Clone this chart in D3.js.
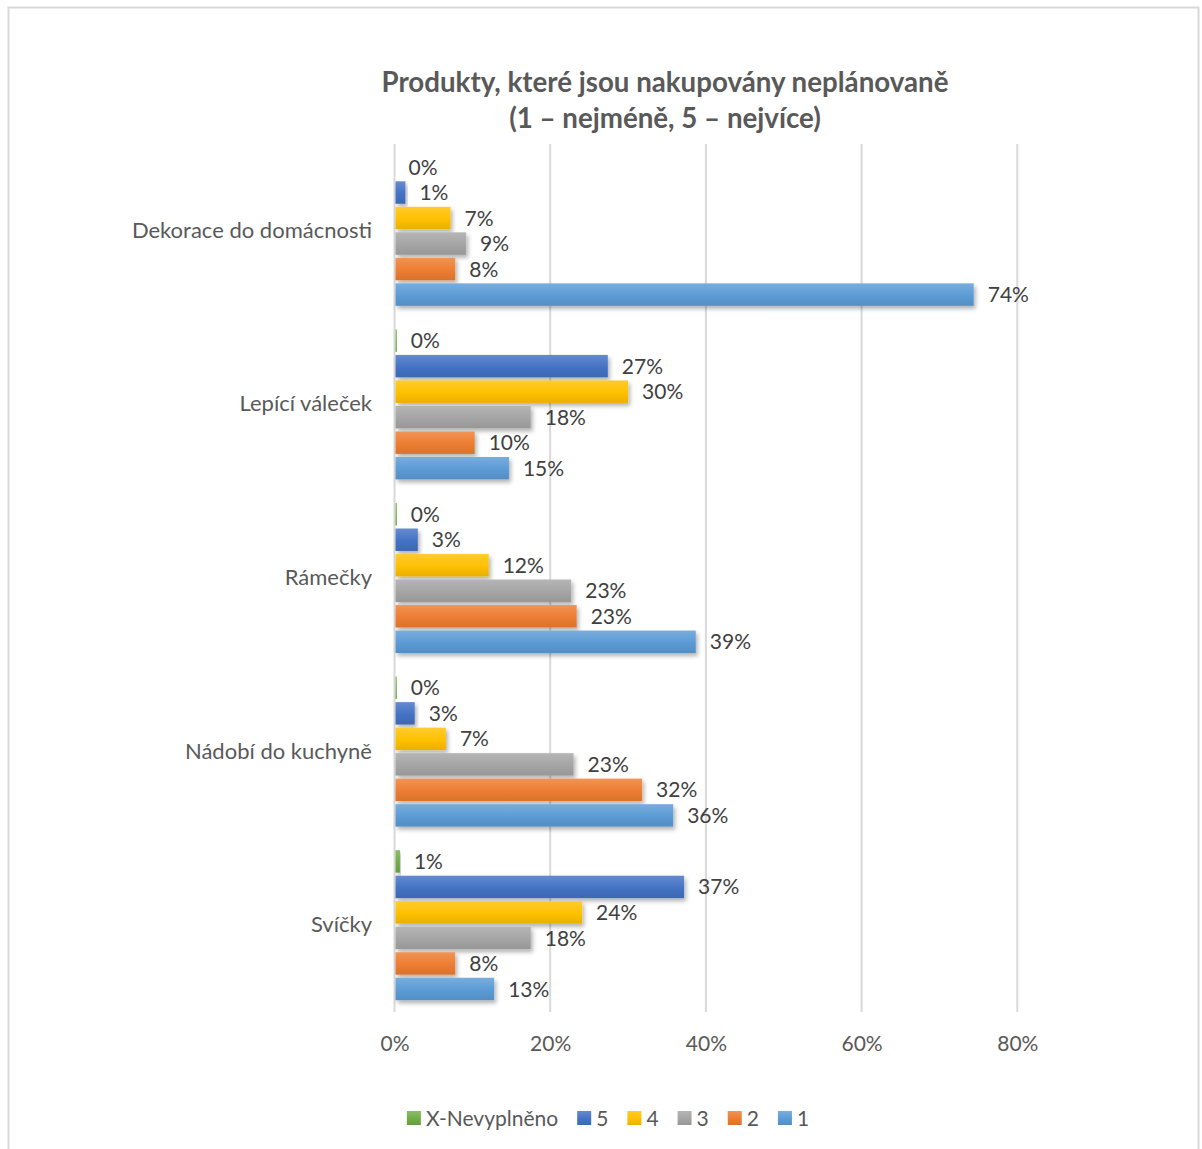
<!DOCTYPE html>
<html><head><meta charset="utf-8">
<script src="https://cdn.jsdelivr.net/npm/d3@7"></script>
<style>body{margin:0;background:#fff} svg{display:block}</style>
</head><body>
<svg id="chart" width="1202" height="1149"></svg>
<script>
const categories = ["Dekorace do domácnosti", "Lepící váleček", "Rámečky", "Nádobí do kuchyně", "Svíčky"];
const seriesNames = ["X-Nevyplněno", "5", "4", "3", "2", "1"];
const valuesX = [0, 0.3, 0.3, 0.3, 0.7];
const values5 = [1.4, 27.4, 3.0, 2.6, 37.2];
const values4 = [7.2, 30.0, 12.1, 6.6, 24.1];
const values3 = [9.2, 17.5, 22.7, 23.0, 17.5];
const values2 = [7.8, 10.3, 23.4, 31.8, 7.8];
const values1 = [74.4, 14.7, 38.7, 35.8, 12.8];
const xTicks = [0, 20, 40, 60, 80];
const titleLines = ["Produkty, které jsou nakupovány neplánovaně", "(1 – nejméně, 5 – nejvíce)"];
const colors = ["#70ad47", "#4472c4", "#ffc000", "#a5a5a5", "#ed7d31", "#5b9bd5"];

const seriesValues = [valuesX, values5, values4, values3, values2, values1];
const FONT = "Lato, 'Open Sans', sans-serif";

const svg = d3.select("#chart");

// outer border
svg.append("rect").attr("x", 8.5).attr("y", 7.5).attr("width", 1190).attr("height", 1160)
  .attr("fill", "#fff").attr("stroke", "#d9d9d9").attr("stroke-width", 2);

const defs = svg.append("defs");
const f = defs.append("filter").attr("id", "shadow").attr("x", "-10%").attr("y", "-30%").attr("width", "130%").attr("height", "190%");
f.append("feDropShadow").attr("dx", 2).attr("dy", 3).attr("stdDeviation", 2)
  .attr("flood-color", "#000").attr("flood-opacity", 0.3);

colors.forEach((c, i) => {
  const g = defs.append("linearGradient").attr("id", "grad" + i)
    .attr("x1", 0).attr("y1", 0).attr("x2", 0).attr("y2", 1);
  g.append("stop").attr("offset", "0%").attr("stop-color", d3.interpolateRgb(c, "#fff")(0.18));
  g.append("stop").attr("offset", "55%").attr("stop-color", c);
  g.append("stop").attr("offset", "100%").attr("stop-color", d3.color(c).darker(0.25));
});

// scales
const plotTop = 144, plotBottom = 1012;
const x = d3.scaleLinear().domain([0, 80]).range([394.5, 1017.3]);
const y0 = d3.scaleBand().domain(categories).range([plotTop, plotBottom]);
const outerPad = 11.8;
const y1 = d3.scaleBand().domain(seriesNames).range([outerPad, y0.bandwidth() - outerPad]).paddingInner(0.12);

// title
const title = svg.append("text").attr("x", 665).attr("y", 92)
  .attr("text-anchor", "middle").attr("font-family", FONT).attr("font-weight", "bold")
  .attr("font-size", 27.7).attr("fill", "#595959");
titleLines.forEach((t, i) => {
  title.append("tspan").attr("x", 665).attr("dy", i === 0 ? 0 : 36).text(t);
});

// gridlines
svg.append("g").selectAll("line").data(xTicks).join("line")
  .attr("x1", d => x(d)).attr("x2", d => x(d))
  .attr("y1", plotTop).attr("y2", plotBottom)
  .attr("stroke", "#d9d9d9").attr("stroke-width", 2);

// x axis labels
const xAxis = d3.axisBottom(x).tickValues(xTicks).tickFormat(d => d + "%").tickSize(0).tickPadding(0);
const xg = svg.append("g").attr("transform", `translate(0,${1036})`).call(xAxis);
xg.select(".domain").remove();
xg.selectAll("text").attr("font-family", FONT).attr("font-size", 21).attr("fill", "#595959")
  .attr("dy", "0.71em");

// y axis labels
const yAxis = d3.axisLeft(y0).tickSize(0).tickPadding(0);
const yg = svg.append("g").attr("transform", `translate(372,0)`).call(yAxis);
yg.select(".domain").remove();
yg.selectAll("text").attr("font-family", FONT).attr("font-size", 22).attr("fill", "#595959");

// bars
const groups = svg.append("g").selectAll("g").data(categories).join("g")
  .attr("transform", d => `translate(0,${y0(d)})`);

groups.each(function(cat, ci) {
  const g = d3.select(this);
  const rows = seriesNames.map((s, si) => ({ s, si, v: seriesValues[si][ci] }));
  g.selectAll("rect").data(rows).join("rect")
    .attr("x", x(0) + 1)
    .attr("y", d => y1(d.s))
    .attr("width", d => Math.max(0, x(d.v) - x(0) - 1))
    .attr("height", y1.bandwidth())
    .attr("fill", d => `url(#grad${d.si})`)
    .attr("filter", d => d.v > 0.5 ? "url(#shadow)" : null);
  g.selectAll("text").data(rows).join("text")
    .attr("x", d => x(d.v) + 14)
    .attr("y", d => y1(d.s) + y1.bandwidth() / 2)
    .attr("dy", "0.36em")
    .attr("font-family", FONT).attr("font-size", 21).attr("fill", "#404040")
    .text(d => Math.round(d.v) + "%");
});

// legend
const legend = svg.append("g");
let lx = 0;
seriesNames.forEach((s, i) => {
  const item = legend.append("g").attr("transform", `translate(${lx},0)`);
  item.append("rect").attr("x", 0).attr("y", -7).attr("width", 14).attr("height", 14)
    .attr("fill", `url(#grad${i})`);
  const t = item.append("text").attr("x", 19).attr("y", 0).attr("dy", "0.36em")
    .attr("font-family", FONT).attr("font-size", 21).attr("fill", "#595959").text(s);
  lx += 19 + t.node().getComputedTextLength() + 19;
});
const lw = lx - 19;
legend.attr("transform", `translate(${608 - lw / 2},1118)`);
</script>
</body></html>
